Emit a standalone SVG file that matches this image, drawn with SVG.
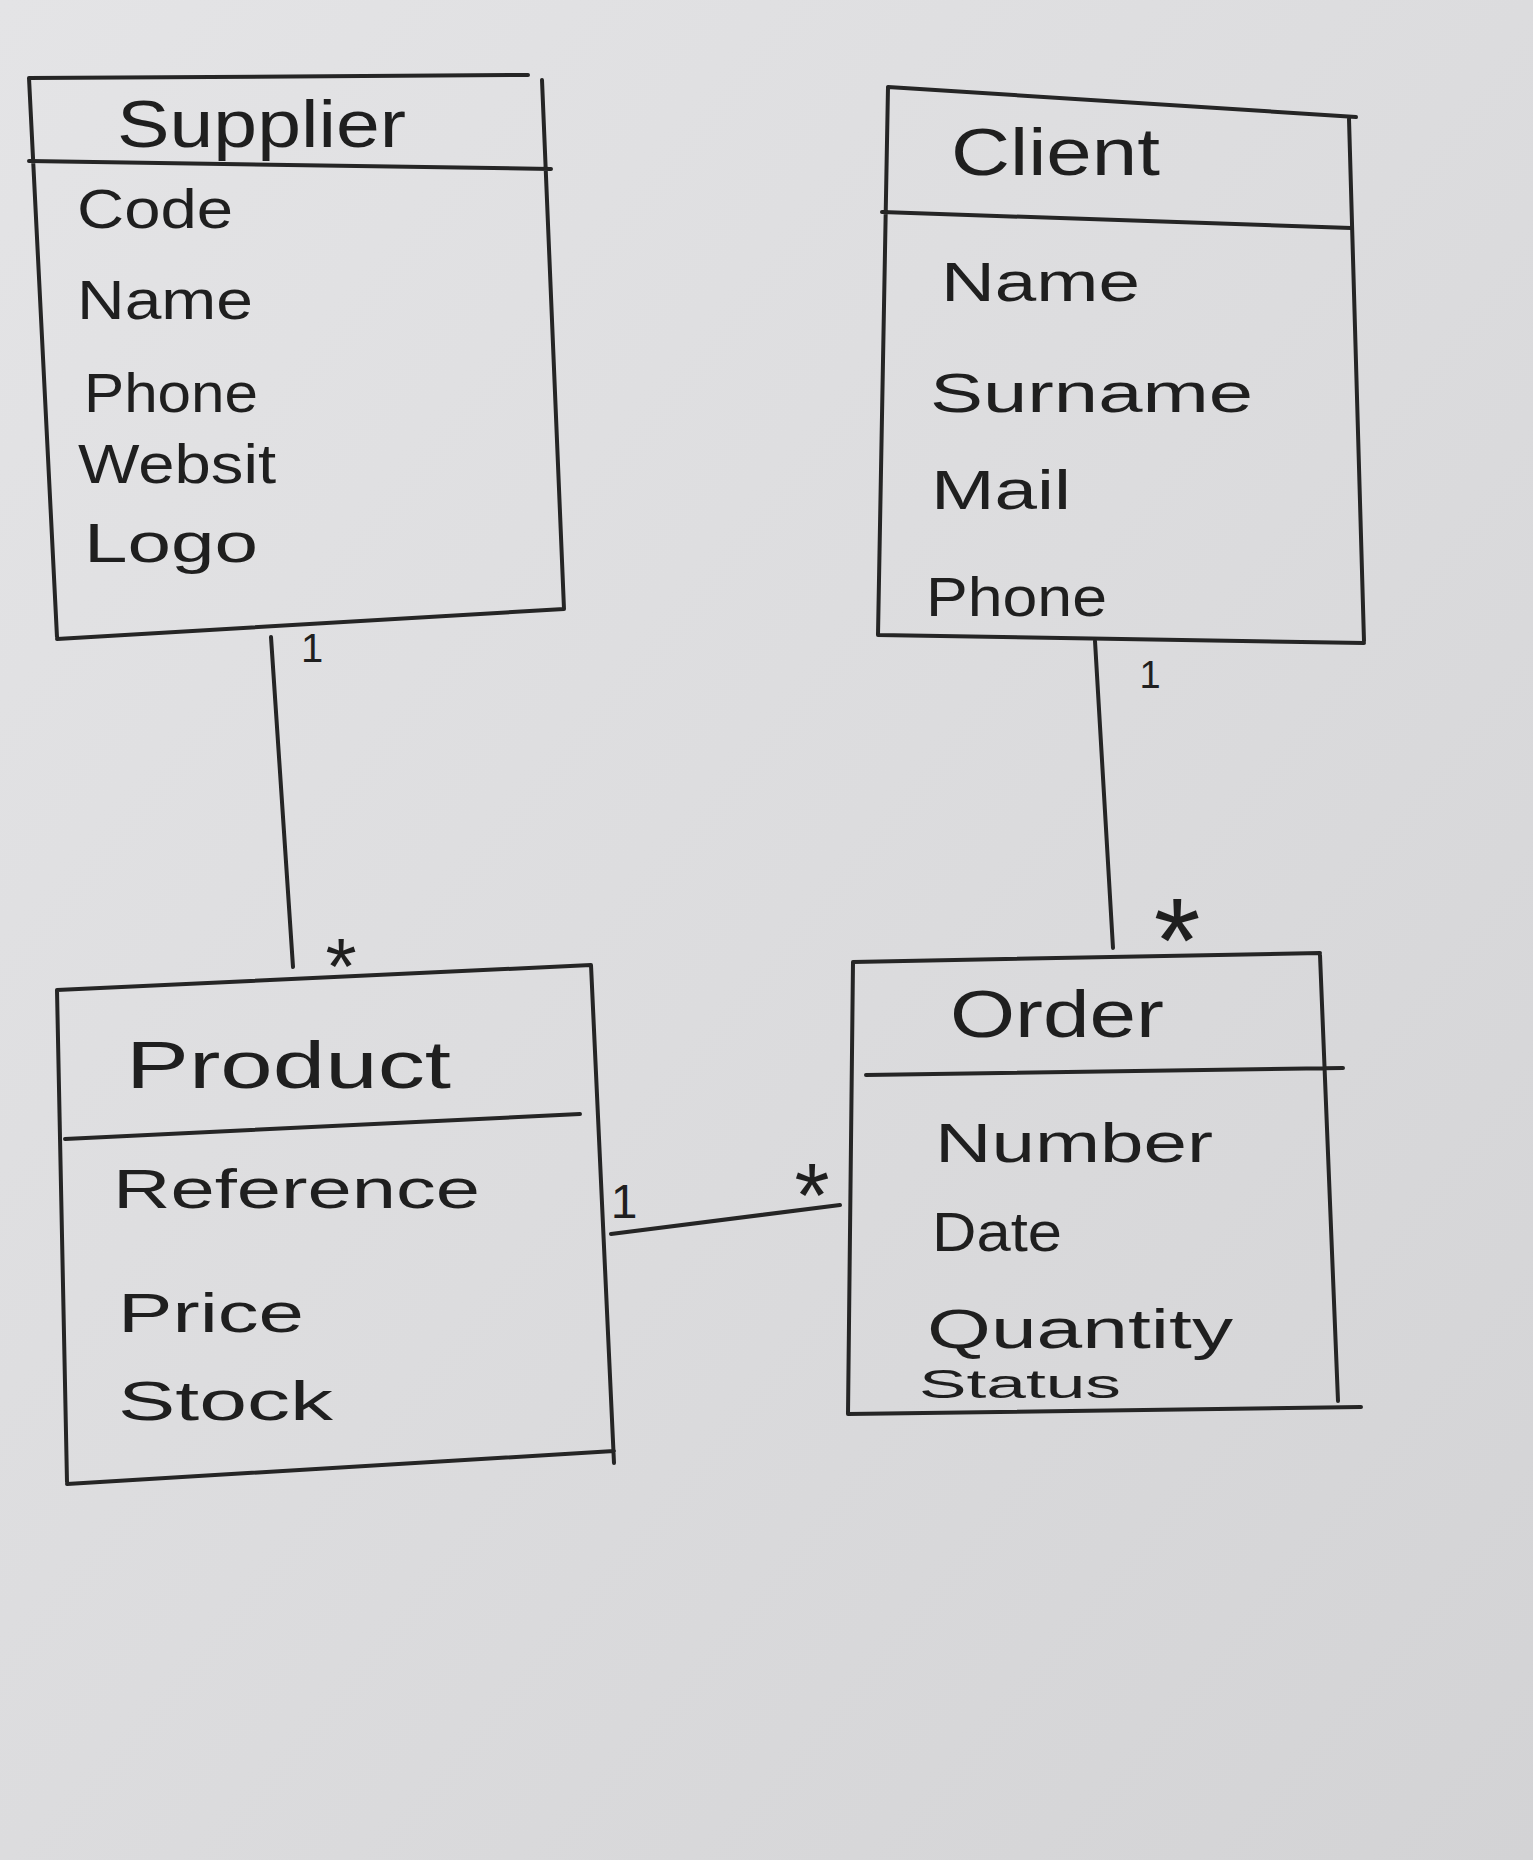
<svg xmlns="http://www.w3.org/2000/svg" width="1533" height="1860" viewBox="0 0 1533 1860">
<defs>
<linearGradient id="paper" x1="0" y1="0" x2="1" y2="1">
<stop offset="0" stop-color="#e4e4e6"/>
<stop offset="0.5" stop-color="#dcdcde"/>
<stop offset="1" stop-color="#d3d3d5"/>
</linearGradient>
<style>
.edge{fill:none;stroke:#252525;stroke-width:4;stroke-linecap:round;stroke-linejoin:round}
.title{font-family:"Liberation Sans",Arial,sans-serif;font-size:66px;fill:#1f1f1f}
.attr{font-family:"Liberation Sans",Arial,sans-serif;font-size:56px;fill:#1f1f1f}
.small{font-family:"Liberation Sans",Arial,sans-serif;font-size:40px;fill:#1f1f1f}
.mult{font-family:"Liberation Sans",Arial,sans-serif;fill:#1f1f1f;text-anchor:middle}
</style>
</defs>
<rect x="0" y="0" width="1533" height="1860" fill="url(#paper)"/>

<g id="supplier">
<path class="edge" d="M29,78 L528,75 M542,80 L564,609 M57,639 L564,609 M29,78 L57,637 M29,161 L551,169"/>
<text class="title" x="117" y="147" textLength="289" lengthAdjust="spacingAndGlyphs">Supplier</text>
<text class="attr" x="77" y="228" textLength="156" lengthAdjust="spacingAndGlyphs">Code</text>
<text class="attr" x="77" y="319" textLength="176" lengthAdjust="spacingAndGlyphs">Name</text>
<text class="attr" x="84" y="412" textLength="174" lengthAdjust="spacingAndGlyphs">Phone</text>
<text class="attr" x="78" y="483" textLength="198" lengthAdjust="spacingAndGlyphs">Websit</text>
<text class="attr" x="84" y="562" textLength="174" lengthAdjust="spacingAndGlyphs">Logo</text>
</g>

<g id="client">
<path class="edge" d="M888,87 L1356,117 M1349,119 L1364,641 M878,635 L1364,643 M888,87 L878,635 M882,212 L1351,228"/>
<text class="title" x="951" y="175" textLength="209" lengthAdjust="spacingAndGlyphs">Client</text>
<text class="attr" x="941" y="301" textLength="199" lengthAdjust="spacingAndGlyphs">Name</text>
<text class="attr" x="930" y="412" textLength="323" lengthAdjust="spacingAndGlyphs">Surname</text>
<text class="attr" x="931" y="509" textLength="140" lengthAdjust="spacingAndGlyphs">Mail</text>
<text class="attr" x="926" y="616" textLength="181" lengthAdjust="spacingAndGlyphs">Phone</text>
</g>

<g id="product">
<path class="edge" d="M57,990 L591,965 M591,965 L614,1463 M67,1484 L614,1451 M57,990 L67,1482 M65,1139 L580,1114"/>
<text class="title" x="126" y="1088" textLength="325" lengthAdjust="spacingAndGlyphs">Product</text>
<text class="attr" x="113" y="1208" textLength="367" lengthAdjust="spacingAndGlyphs">Reference</text>
<text class="attr" x="118" y="1332" textLength="186" lengthAdjust="spacingAndGlyphs">Price</text>
<text class="attr" x="118" y="1420" textLength="215" lengthAdjust="spacingAndGlyphs">Stock</text>
</g>

<g id="order">
<path class="edge" d="M853,962 L1320,953 M1320,955 L1338,1401 M848,1414 L1361,1407 M853,962 L848,1414 M866,1075 L1343,1068"/>
<text class="title" x="950" y="1037" textLength="214" lengthAdjust="spacingAndGlyphs">Order</text>
<text class="attr" x="935" y="1162" textLength="278" lengthAdjust="spacingAndGlyphs">Number</text>
<text class="attr" x="932" y="1251" textLength="130" lengthAdjust="spacingAndGlyphs">Date</text>
<text class="attr" x="927" y="1348" textLength="306" lengthAdjust="spacingAndGlyphs">Quantity</text>
<text class="small" x="919" y="1398" textLength="202" lengthAdjust="spacingAndGlyphs">Status</text>
</g>

<g id="connectors">
<path class="edge" d="M271,637 L293,967"/>
<path class="edge" d="M1095,641 L1113,948"/>
<path class="edge" d="M611,1234 L840,1205"/>
<text class="mult" x="312" y="662" font-size="40">1</text>
<text class="mult" x="341" y="994" font-size="80">*</text>
<text class="mult" x="1150" y="688" font-size="38">1</text>
<text class="mult" x="1177" y="982" font-size="120">*</text>
<text class="mult" x="624" y="1218" font-size="48">1</text>
<text class="mult" x="812" y="1227" font-size="90">*</text>
</g>
</svg>
